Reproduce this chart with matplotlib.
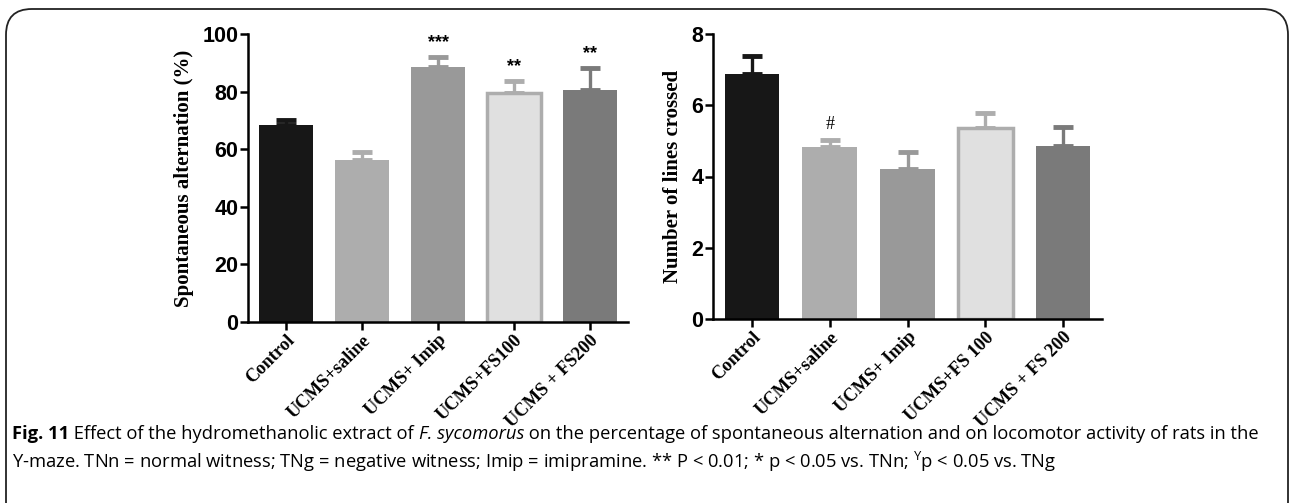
import numpy as np
import matplotlib.pyplot as plt
from matplotlib.patches import FancyBboxPatch

# ========== DATA ==========
groups_left = ['Control', 'UCMS+saline', 'UCMS+ Imip', 'UCMS+FS100', 'UCMS + FS200']
alt_mean = [68.3, 56.2, 88.4, 79.6, 80.4]
alt_sem = [1.8, 2.9, 3.7, 4.2, 7.9]
alt_marks = ['', '', '***', '**', '**']

groups_right = ['Control', 'UCMS+saline', 'UCMS+ Imip', 'UCMS+FS 100', 'UCMS + FS 200']
lines_mean = [6.88, 4.82, 4.22, 5.35, 4.87]
lines_sem = [0.50, 0.20, 0.47, 0.42, 0.51]
lines_marks = ['', '#', '', '', '']

fills = ['#171717', '#adadad', '#999999', '#e0e0e0', '#7a7a7a']
edges = ['#171717', '#adadad', '#999999', '#adadad', '#7a7a7a']

# caption pieces: (text, weight, style)
caption1 = [('Fig. 11', 'bold', 'normal'),
            (' Effect of the hydromethanolic extract of ', 'normal', 'normal'),
            ('F. sycomorus', 'normal', 'italic'),
            (' on the percentage of spontaneous alternation and on locomotor activity of rats in the',
             'normal', 'normal')]
caption2 = [('Y-maze. TNn = normal witness; TNg = negative witness; Imip = imipramine. '
             '** P < 0.01; * p < 0.05 vs. TNn; $^{\\mathrm{Y}}$p < 0.05 vs. TNg', 'normal', 'normal')]

plt.rcParams['mathtext.fontset'] = 'custom'
plt.rcParams['mathtext.rm'] = 'Open Sans'

W, H = 1290, 503
fig = plt.figure(figsize=(W / 100, H / 100), dpi=100)

# rounded frame
frame = FancyBboxPatch((6 / W, -0.05), 1282 / W, (494 / H) + 0.05,
                       boxstyle='round,pad=0,rounding_size=0.02',
                       transform=fig.transFigure, fill=False, lw=1.3,
                       edgecolor='#222222', mutation_aspect=W / H)
fig.patches.append(frame)


def draw_panel(ax, labels, means, sems, marks, ylim, yticks, ylabel, mark_off, mark_font):
    x = np.arange(len(labels))
    for i in range(len(labels)):
        ax.bar(x[i], means[i], width=0.7, color=fills[i], edgecolor=edges[i],
               linewidth=2.5 if i == 3 else 0, zorder=2)
        ax.errorbar(x[i], means[i], yerr=[[0], [sems[i]]], fmt='none',
                    ecolor=edges[i], elinewidth=2.4, capsize=7, capthick=3.5, zorder=1)
        if marks[i]:
            ax.text(x[i], means[i] + sems[i] + mark_off, marks[i], ha='center',
                    va='center', **mark_font)
    ax.set_xlim(-0.5, 4.5)
    ax.set_ylim(*ylim)
    ax.set_yticks(yticks)
    ax.set_xticks(x)
    ax.set_xticklabels(labels, rotation=45, ha='right', rotation_mode='anchor',
                       family='Liberation Serif', fontweight='bold', fontsize=13.2)
    for lab in ax.get_yticklabels():
        lab.set_family('Liberation Sans')
        lab.set_fontweight('bold')
        lab.set_fontsize(15.5)
    ax.set_ylabel(ylabel, family='Liberation Serif', fontweight='bold', fontsize=15, labelpad=6)
    for s in ['top', 'right']:
        ax.spines[s].set_visible(False)
    for s in ['left', 'bottom']:
        ax.spines[s].set_linewidth(1.8)
    ax.tick_params(axis='both', width=1.8, length=6, direction='out', pad=1)


ax1 = fig.add_axes([248 / W, 181 / H, 380 / W, 288 / H])
draw_panel(ax1, groups_left, alt_mean, alt_sem, alt_marks, (0, 100), [0, 20, 40, 60, 80, 100],
           'Spontaneous alternation (%)', 4.8,
           dict(family='Liberation Sans', fontsize=13, fontweight='bold'))

ax2 = fig.add_axes([713 / W, 184 / H, 389 / W, 285 / H])
draw_panel(ax2, groups_right, lines_mean, lines_sem, lines_marks, (0, 8), [0, 2, 4, 6, 8],
           'Number of lines crossed', 0.45,
           dict(family='Liberation Serif', fontsize=13))


def caption_line(pieces, x0, y, size):
    fig.canvas.draw()
    x = x0
    for txt, wt, st in pieces:
        t = fig.text(x / W, 1 - y / H, txt, family='Open Sans', fontweight=wt, style=st,
                     fontsize=size, va='baseline', ha='left')
        fig.canvas.draw()
        x = t.get_window_extent().x1


caption_line(caption1, 12, 439, 13.2)
caption_line(caption2, 12, 468, 13.2)

fig.savefig('out.png', dpi=100)
